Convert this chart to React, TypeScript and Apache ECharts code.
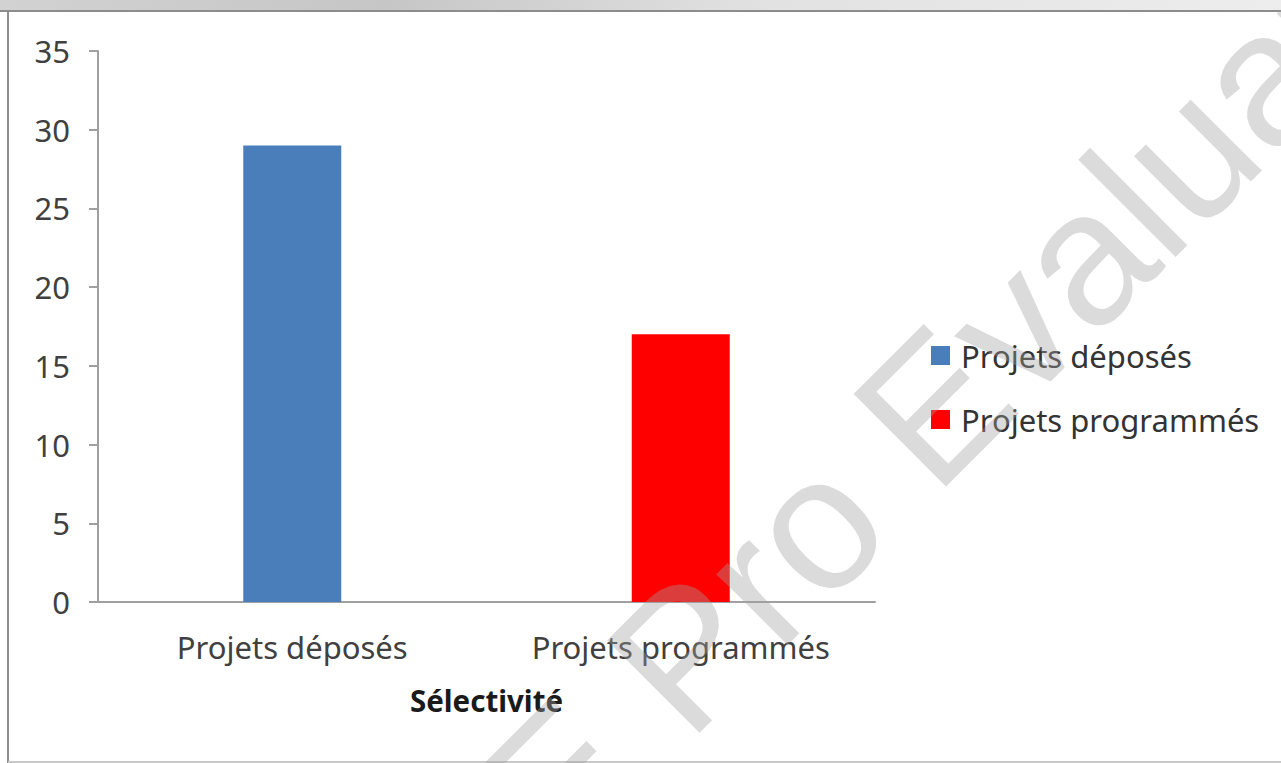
import React, { useEffect, useRef } from "react";
import * as echarts from "echarts";

const categories = ["Projets déposés", "Projets programmés"];
const seriesNames = ["Projets déposés", "Projets programmés"];
const deposes = [29, "-"];
const programmes = ["-", 17];
const yTicks = { min: 0, max: 35, interval: 5 };
const axisTitle = "Sélectivité";
const watermark = "E Pro Evaluation";

export default function App() {
  const ref = useRef<HTMLDivElement>(null);
  useEffect(() => {
    if (!ref.current) return;
    const chart = echarts.init(ref.current, null, { renderer: "svg" });
    const font = "'Noto Sans', sans-serif";
    chart.setOption({
      animation: false,
      backgroundColor: "#ffffff",
      textStyle: { fontFamily: font },
      grid: { left: 98, right: 406, top: 51, bottom: 161, containLabel: false },
      legend: {
        orient: "vertical",
        left: 931,
        top: 340,
        padding: 0,
        itemWidth: 19,
        itemHeight: 19,
        itemGap: 33,
        icon: "rect",
        data: seriesNames,
        textStyle: { fontFamily: font, fontSize: 31, color: "#333333", padding: [0, 0, 0, 6] },
      },
      xAxis: {
        type: "category",
        data: categories,
        name: axisTitle,
        nameLocation: "middle",
        nameGap: 83,
        nameTextStyle: { fontFamily: font, fontSize: 29.5, fontWeight: "bold", color: "#1a1a1a" },
        axisLine: { show: true, lineStyle: { color: "#a0a0a0", width: 2 } },
        axisTick: { show: false },
        axisLabel: { fontFamily: font, fontSize: 31, color: "#404040", margin: 29 },
        splitLine: { show: false },
      },
      yAxis: {
        type: "value",
        min: yTicks.min,
        max: yTicks.max,
        interval: yTicks.interval,
        axisLine: { show: true, lineStyle: { color: "#a0a0a0", width: 2 } },
        axisTick: { show: true, inside: false, length: 9, lineStyle: { color: "#a0a0a0", width: 2 } },
        axisLabel: { fontFamily: font, fontSize: 31, color: "#404040", margin: 28 },
        splitLine: { show: false },
      },
      series: [
        {
          name: seriesNames[0],
          type: "bar",
          stack: "s",
          barWidth: 98,
          data: deposes,
          itemStyle: { color: "#4a7ebb" },
        },
        {
          name: seriesNames[1],
          type: "bar",
          stack: "s",
          barWidth: 98,
          data: programmes,
          itemStyle: { color: "#ff0000" },
        },
      ],
      graphic: [
        {
          type: "rect",
          z: 50,
          shape: { x: 0, y: 0, width: 1281, height: 10 },
          style: {
            fill: new echarts.graphic.LinearGradient(0, 0, 1, 0, [
              { offset: 0, color: "#d2d2d2" },
              { offset: 0.3, color: "#c6c6c6" },
              { offset: 0.6, color: "#e2e2e2" },
              { offset: 1, color: "#ededed" },
            ]),
          },
        },
        {
          type: "line",
          z: 50,
          shape: { x1: 0, y1: 11, x2: 1281, y2: 11 },
          style: { stroke: "#8c8c8c", lineWidth: 2 },
        },
        {
          type: "line",
          z: 50,
          shape: { x1: 8, y1: 11, x2: 8, y2: 763 },
          style: { stroke: "#8c8c8c", lineWidth: 2 },
        },
        {
          type: "line",
          z: 50,
          shape: { x1: 8, y1: 762, x2: 1281, y2: 762 },
          style: { stroke: "#c8c8c8", lineWidth: 2 },
        },
        {
          type: "text",
          z: 100,
          x: 515,
          y: 824,
          rotation: Math.PI / 4,
          silent: true,
          style: {
            text: watermark,
            x: 0,
            y: 0,
            font: "190px 'Liberation Sans', Arial, sans-serif",
            fill: "rgba(160,160,160,0.38)",
            textAlign: "left",
            textVerticalAlign: "middle",
          },
        },
      ],
    });
    return () => chart.dispose();
  }, []);
  return (
    <div
      ref={ref}
      style={{ position: "fixed", left: 0, top: 0, width: 1281, height: 763 }}
    />
  );
}
